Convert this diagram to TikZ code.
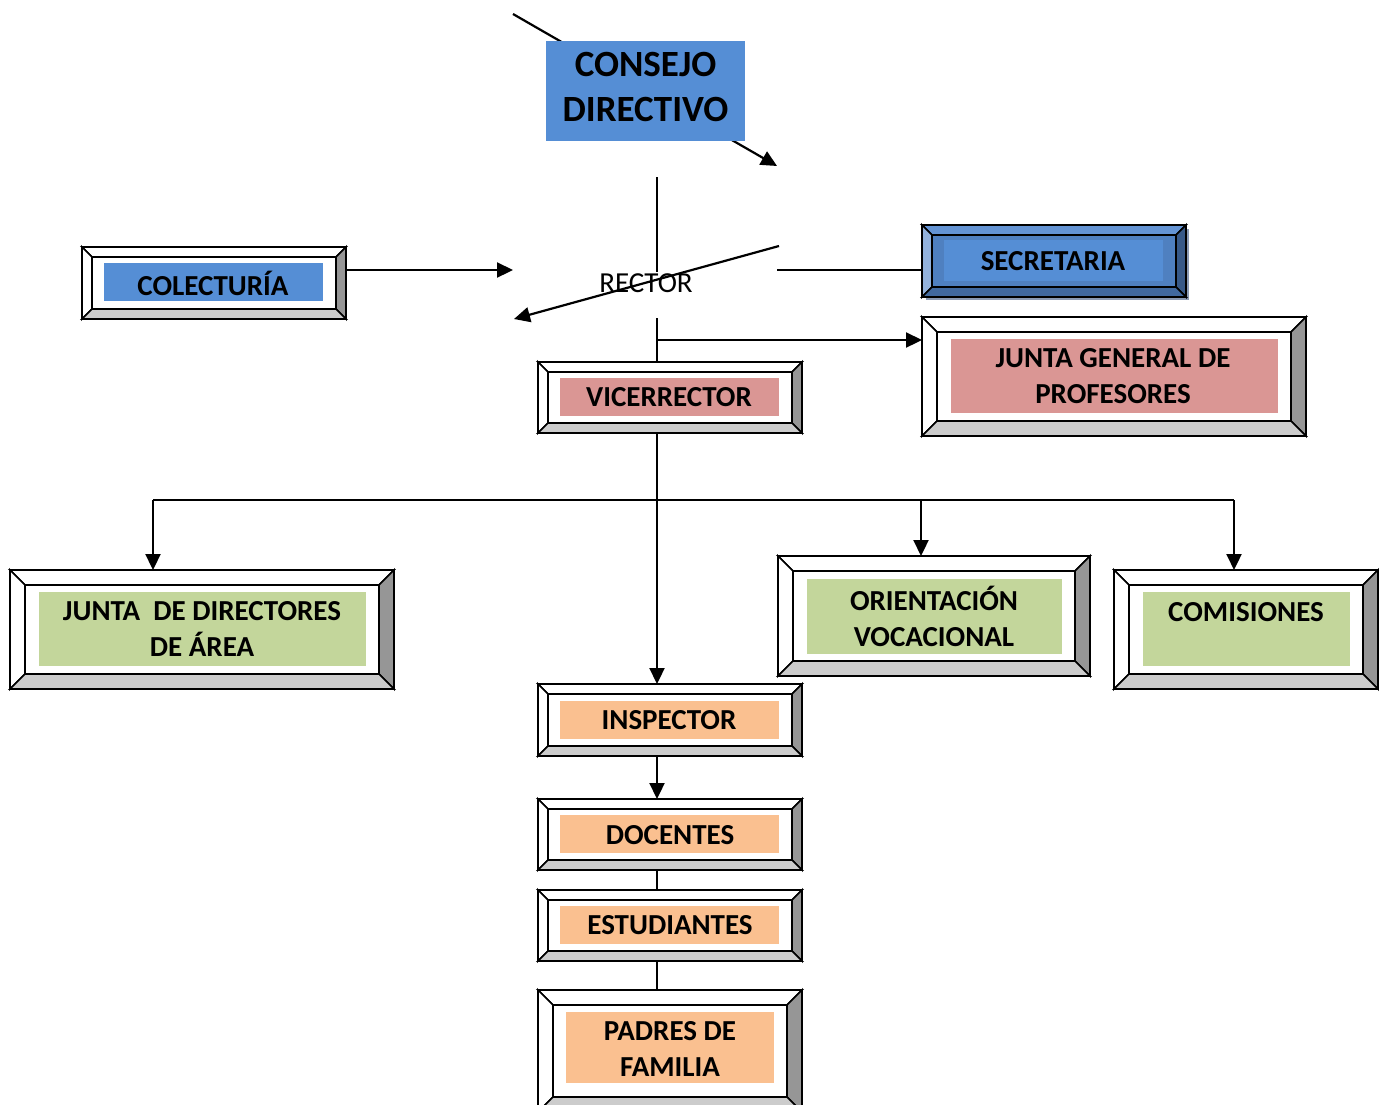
\documentclass[tikz,border=0pt]{standalone}
\usepackage{fontspec}
\setmainfont{Carlito}
\usetikzlibrary{arrows.meta}
\definecolor{cblue}{HTML}{558ED5}
\definecolor{cpink}{HTML}{DA9694}
\definecolor{cgreen}{HTML}{C3D69B}
\definecolor{corange}{HTML}{FAC090}
\definecolor{bdark}{HTML}{969696}
\definecolor{blight}{HTML}{CCCCCC}
\definecolor{sface}{HTML}{4F80C0}
\definecolor{stop}{HTML}{6494D4}
\definecolor{sleft}{HTML}{93B2DC}
\definecolor{sright}{HTML}{385987}
\definecolor{sbot}{HTML}{41699F}
\definecolor{sshadow}{HTML}{8C9BB4}
\def\topc{white}\def\leftc{white}\def\rightc{bdark}\def\botc{blight}\def\facec{white}
\newcommand\bevelbox[9]{%
  \pgfmathsetmacro\bbw{(#4-#2)*0.5}\pgfmathsetmacro\bbh{(#5-#3)*0.5}%
  \node[inner sep=0pt,outer sep=0pt,minimum width=\bbw pt,minimum height=\bbh pt] (#1) at ({(#2+#4)/2},{(#3+#5)/2}) {};
  \filldraw[fill=\topc,frame] (#2,#3)--(#4,#3)--(#4-#9,#3+#9)--(#2+#9,#3+#9)--cycle;
  \filldraw[fill=\leftc,frame] (#2,#3)--(#2+#9,#3+#9)--(#2+#9,#5-#9)--(#2,#5)--cycle;
  \filldraw[fill=\rightc,frame] (#4,#3)--(#4,#5)--(#4-#9,#5-#9)--(#4-#9,#3+#9)--cycle;
  \filldraw[fill=\botc,frame] (#2,#5)--(#4,#5)--(#4-#9,#5-#9)--(#2+#9,#5-#9)--cycle;
  \filldraw[fill=\facec,frame] (#2+#9,#3+#9) rectangle (#4-#9,#5-#9);
  \fill[#8] (#6) rectangle (#7);
}
\tikzset{
  frame/.style={draw=black,line width=0.85pt,line join=miter},
  lbl/.style={font=\fontsize{14.5}{18}\selectfont\bfseries,align=center,inner sep=0pt},
  conn/.style={line width=1.1pt,draw=black},
  arr/.style={conn,-{Triangle[length=8pt,width=7.5pt]}},
}
\begin{document}
\begin{tikzpicture}[x=0.5pt,y=-0.5pt]
\clip (0,0) rectangle (1379,1104);
\useasboundingbox (0,0) rectangle (1379,1104);

% Consejo directivo with diagonal arrow behind
\coordinate (cfrom) at (513,14);
\coordinate (cto) at (777,166);
\draw[arr] (cfrom) -- (cto);
\node[fill=cblue,minimum width=99.5pt,minimum height=50pt,inner sep=0pt,
      font=\fontsize{18.5}{22.5}\selectfont\bfseries,align=center] (consejo) at (645.5,91) {};
\node[font=\fontsize{18.5}{22.5}\selectfont\bfseries,align=center,inner sep=0pt] (consejo-t) at (645.5,87) {CONSEJO\\DIRECTIVO};

% Rector
\node[font=\fontsize{14.5}{18}\selectfont,inner sep=0pt] (rector) at (646,283) {RECTOR};
\coordinate (rtop) at (657,177);
\coordinate (rtopend) at (657,272);
\draw[conn] (rtop) -- (rtopend);
\coordinate (rdiagA) at (779,246);
\coordinate (rdiagB) at (514,319);
\draw[arr] (rdiagA) -- (rdiagB);

% Colecturia
\bevelbox{colect}{82}{247}{346}{319}{104,263}{323,301}{cblue}{10}
\node[lbl] (colect-t) at (213,283) {COLECTURÍA};
\coordinate (colin) at (513,270);
\draw[arr] (colect.east |- colin) -- (colin);

% Secretaria
\fill[sshadow] (926,229) rectangle (1189,300);
\begingroup
\def\topc{stop}\def\leftc{sleft}\def\rightc{sright}\def\botc{sbot}\def\facec{sface}
\bevelbox{secre}{922}{225}{1186}{297}{944,240}{1163,281}{cblue}{10}
\endgroup
\node[lbl] (secre-t) at (1053,261) {SECRETARIA};
\coordinate (secin) at (777,270);
\draw[conn] (secre.west |- secin) -- (secin);

% Junta general
\bevelbox{jgp}{922}{317}{1306}{436}{951,339}{1278,413}{cpink}{15}
\node[lbl] (jgp-t) at (1113,376) {JUNTA GENERAL DE\\PROFESORES};

% Vicerrector
\bevelbox{vice}{538}{362}{802}{433}{560,378}{779,416}{cpink}{10}
\node[lbl] (vice-t) at (669,397) {VICERRECTOR};

\coordinate (rbot) at (657,318);
\draw[conn] (rbot) -- (vice.north -| rbot);
\coordinate (jbr) at (657,340);
\draw[arr] (jbr) -- (jgp.west |- jbr);

% Level boxes
\bevelbox{jda}{10}{570}{394}{689}{39,592}{366,666}{cgreen}{15}
\node[lbl] (jda-t) at (202,629) {JUNTA\ \ DE DIRECTORES\\DE ÁREA};
\bevelbox{ori}{778}{556}{1090}{676}{807,579}{1062,654}{cgreen}{15}
\node[lbl] (ori-t) at (934,616) {ORIENTACIÓN\\VOCACIONAL};
\bevelbox{com}{1114}{570}{1378}{689}{1143,592}{1350,666}{cgreen}{15}
\node[lbl] (com-t) at (1246,612) {COMISIONES};

\bevelbox{insp}{538}{684}{802}{756}{560,701}{779,739}{corange}{10}
\node[lbl] (insp-t) at (669,720) {INSPECTOR};
\bevelbox{doc}{538}{799}{802}{870}{560,815}{779,853}{corange}{10}
\node[lbl] (doc-t) at (670,835) {DOCENTES};
\bevelbox{est}{538}{890}{802}{961}{560,906}{779,944}{corange}{10}
\node[lbl] (est-t) at (670,925) {ESTUDIANTES};
\bevelbox{pad}{538}{990}{802}{1112}{566,1012}{774,1083}{corange}{15}
\node[lbl] (pad-t) at (670,1049) {PADRES DE\\FAMILIA};

% Connectors from vicerrector
\coordinate (vx) at (657,433);
\draw[arr] (vx) -- (insp.north -| vx);
\coordinate (hl) at (153,500);
\coordinate (hr) at (1234,500);
\draw[conn] (hl) -- (hr);
\draw[arr] (hl) -- (jda.north -| hl);
\coordinate (ho) at (921,500);
\draw[arr] (ho) -- (ori.north -| ho);
\draw[arr] (hr) -- (com.north -| hr);

\coordinate (dx) at (657,756);
\draw[arr] (dx) -- (doc.north -| dx);
\draw[conn] (doc.south -| dx) -- (est.north -| dx);
\draw[conn] (est.south -| dx) -- (pad.north -| dx);
\end{tikzpicture}
\end{document}
